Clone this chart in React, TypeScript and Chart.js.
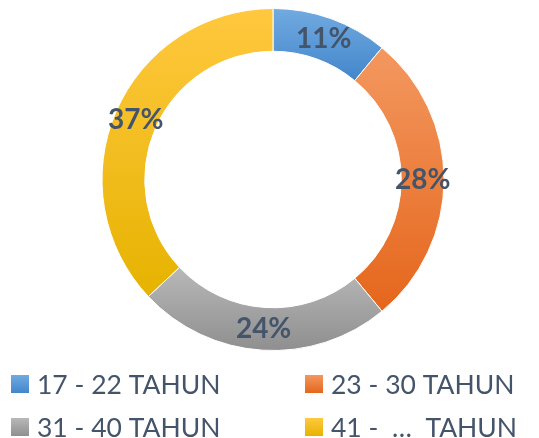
import React, { useEffect, useRef } from "react";
import { Chart, registerables } from "chart.js";

Chart.register(...registerables);

const categories = ["17 - 22 TAHUN", "23 - 30 TAHUN", "31 - 40 TAHUN", "41 -  …  TAHUN"];
const values = [11, 28, 24, 37];
const topColors = ["#72aae0", "#f39860", "#b8b8b8", "#ffc83f"];
const bottomColors = ["#4386cc", "#e5661c", "#8f8f8f", "#e6b300"];
const textColor = "#44546a";

function arcYExtent(a: any) {
  let minY = Infinity, maxY = -Infinity;
  const steps = 60;
  for (let i = 0; i <= steps; i++) {
    const ang = a.startAngle + ((a.endAngle - a.startAngle) * i) / steps;
    for (const r of [a.innerRadius, a.outerRadius]) {
      const y = a.y + r * Math.sin(ang);
      if (y < minY) minY = y;
      if (y > maxY) maxY = y;
    }
  }
  return [minY, maxY];
}

const gradientPlugin = {
  id: "segGradient",
  beforeDatasetsDraw(chart: any) {
    const ctx = chart.ctx;
    const meta = chart.getDatasetMeta(0);
    meta.data.forEach((arc: any, i: number) => {
      const [y0, y1] = arcYExtent(arc);
      const g = ctx.createLinearGradient(0, y0, 0, y1);
      g.addColorStop(0, topColors[i]);
      g.addColorStop(1, bottomColors[i]);
      arc.options.backgroundColor = g;
    });
  },
};

const labelPlugin = {
  id: "arcLabels",
  afterDatasetsDraw(chart: any) {
    const ctx = chart.ctx;
    const meta = chart.getDatasetMeta(0);
    const data = chart.data.datasets[0].data;
    ctx.save();
    ctx.font = "bold 28px Lato";
    ctx.fillStyle = textColor;
    ctx.textAlign = "center";
    ctx.textBaseline = "middle";
    meta.data.forEach((arc: any, i: number) => {
      const p = arc.tooltipPosition();
      ctx.fillText(data[i] + "%", p.x, p.y);
    });
    ctx.restore();
  },
};

const legendPlugin = {
  id: "gridLegend",
  afterDraw(chart: any) {
    const ctx = chart.ctx;
    const labels = chart.data.labels;
    const colX = [11, 305];
    const rowY = [384, 427];
    ctx.save();
    ctx.font = "26.5px Lato";
    ctx.textBaseline = "middle";
    ctx.textAlign = "left";
    labels.forEach((lab: string, i: number) => {
      const x = colX[i % 2];
      const y = rowY[Math.floor(i / 2)];
      const g = ctx.createLinearGradient(0, y - 9, 0, y + 9);
      g.addColorStop(0, topColors[i]);
      g.addColorStop(1, bottomColors[i]);
      ctx.fillStyle = g;
      ctx.fillRect(x, y - 9, 18, 18);
      ctx.fillStyle = textColor;
      ctx.fillText(lab, x + 26, y + 1);
    });
    ctx.restore();
  },
};

export default function App() {
  const ref = useRef<HTMLCanvasElement | null>(null);
  useEffect(() => {
    document.body.style.margin = "0";
    const chart = new Chart(ref.current as HTMLCanvasElement, {
      type: "doughnut",
      data: {
        labels: categories,
        datasets: [
          {
            data: values,
            backgroundColor: topColors,
            borderColor: "#ffffff",
            borderWidth: 1,
          },
        ],
      },
      options: {
        animation: false,
        responsive: false,
        cutout: "75%",
        layout: { padding: { top: 8, bottom: 87, left: 7, right: 0 } },
        plugins: { legend: { display: false }, tooltip: { enabled: false } },
      },
      plugins: [gradientPlugin, labelPlugin, legendPlugin],
    });
    return () => chart.destroy();
  }, []);
  return (
    <div style={{ position: "absolute", left: 0, top: 0, width: 539, height: 438, background: "#fff" }}>
      <canvas ref={ref} width={539} height={438} style={{ width: 539, height: 438 }} />
    </div>
  );
}
